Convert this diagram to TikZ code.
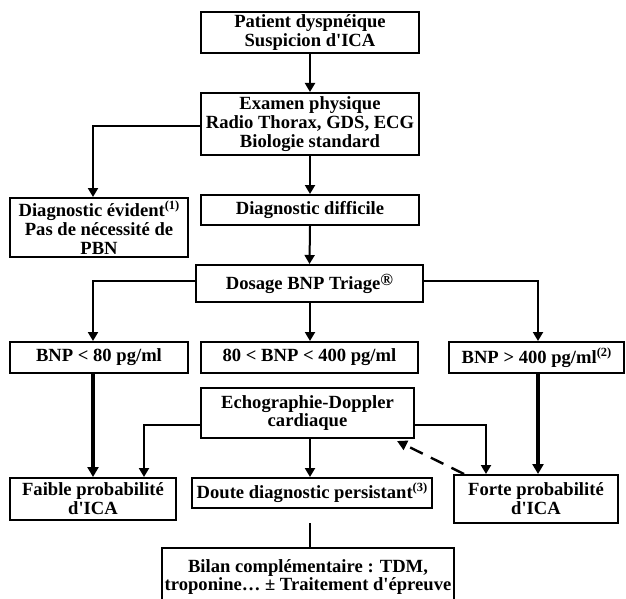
\documentclass[tikz,border=0pt]{standalone}
\usepackage{fontspec}
\setmainfont{Liberation Serif}[Ligatures=TeXOff]
\usetikzlibrary{arrows.meta}
\newcommand{\regmark}{\raisebox{4pt}{\fontsize{17}{17}\selectfont ®}}
\newcommand{\supnote}[1]{\raisebox{7pt}{\fontsize{12.5}{12.5}\selectfont #1}}
\begin{document}
\begin{tikzpicture}[x=1pt,y=-1pt,
  box/.style={draw, line width=2pt, inner sep=0pt, align=center,
    font=\bfseries\fontsize{18.6}{18.8}\selectfont},
  arr/.style={line width=2pt, -{Triangle[length=9pt,width=10pt]}},
  thickarr/.style={line width=3.4pt, -{Triangle[length=10pt,width=11pt]}},
  plain/.style={line width=2pt},
  dasharr/.style={line width=2.4pt, dash pattern=on 14pt off 9pt, -{Triangle[length=10pt,width=10pt]}}]
\useasboundingbox (0,0) rectangle (626,599);
\node[box, minimum width=218pt, minimum height=41pt] (b1) at (310,32.5) {Patient dyspnéique\\Suspicion d'ICA};
\node[box, minimum width=218pt, minimum height=62pt] (b2) at (310,124) {Examen physique\\Radio Thorax, GDS, ECG\\Biologie standard};
\node[box, minimum width=178pt, minimum height=59pt] (b3) at (99,227.5) {Diagnostic évident\supnote{(1)}\\Pas de nécessité de\\PBN};
\node[box, minimum width=218pt, minimum height=30pt] (b4) at (310,210) {Diagnostic difficile};
\node[box, minimum width=227pt, minimum height=37pt] (b5) at (309.5,283.5) {Dosage BNP Triage\regmark};
\node[box, minimum width=178pt, minimum height=31pt] (b6) at (99,357.5) {BNP < 80 pg/ml};
\node[box, minimum width=217pt, minimum height=31pt] (b7) at (309.5,357.5) {80 < BNP < 400 pg/ml};
\node[box, minimum width=175pt, minimum height=31pt] (b8) at (536.5,357.5) {BNP > 400 pg/ml\supnote{(2)}};
\node[box, minimum width=213pt, minimum height=50pt] (b9) at (307.5,413) {Echographie-Doppler\\cardiaque};
\node[box, minimum width=166pt, minimum height=42pt] (b10) at (93,499) {Faible probabilité\\d'ICA};
\node[box, minimum width=240pt, minimum height=30pt] (b11) at (312,493) {Doute diagnostic persistant\supnote{(3)}};
\node[box, minimum width=164pt, minimum height=48pt] (b12) at (536,499) {Forte probabilité\\d'ICA};
\node[box, minimum width=292pt, minimum height=58pt] (b13) at (308,577) {Bilan complémentaire : TDM,\\troponine… ± Traitement d'épreuve};
\draw[arr] (b1.south) -- (b2.north);
\draw[arr] ([yshift=-2pt]b2.west) -| ([xshift=-6pt]b3.north);
\draw[arr] (b2.south) -- (b4.north);
\draw[arr] (b4.south) -- (b5.north);
\draw[arr] ([yshift=3pt]b5.west) -| ([xshift=-6pt]b6.north);
\draw[arr] ([yshift=3pt]b5.east) -| ([xshift=1.5pt]b8.north);
\draw[arr] ([xshift=0.5pt]b5.south) -- ([xshift=0.5pt]b7.north);
\draw[thickarr] ([xshift=-6pt]b6.south) -- (b10.north);
\draw[thickarr] ([xshift=1.5pt]b8.south) -- ([xshift=2pt]b12.north);
\draw[arr] ([yshift=-12pt]b9.west) -| ([xshift=51pt]b10.north);
\draw[arr] ([yshift=-12pt]b9.east) -| ([xshift=-50pt]b12.north);
\draw[arr] ([xshift=2.5pt]b9.south) -- ([xshift=-2pt]b11.north);
\draw[dasharr] ([xshift=-72pt]b12.north) -- ([xshift=-18pt,yshift=-2pt]b9.south east);
\draw[plain] ([xshift=-2pt,yshift=-14pt]b11.south) -- ([xshift=2pt]b13.north);
\end{tikzpicture}
\end{document}
